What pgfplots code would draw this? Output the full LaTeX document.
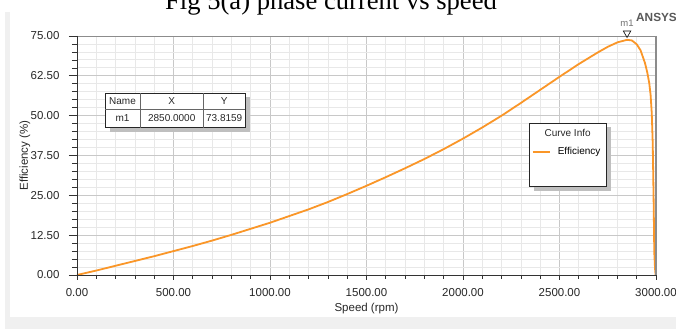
\documentclass[border=0pt]{standalone}
\usepackage{fontspec}
\setmainfont{Liberation Sans}
\newfontfamily\seriffont{Liberation Serif}
\usepackage{pgfplots}
\pgfplotsset{compat=1.18}
\definecolor{effor}{RGB}{250,150,40}
\definecolor{majgrid}{RGB}{200,200,200}
\definecolor{mingrid}{RGB}{232,232,232}
\definecolor{panelgray}{RGB}{240,240,240}
\definecolor{txt}{RGB}{40,40,40}
\begin{document}
\begin{tikzpicture}[x=1pt,y=1pt]
\fill[panelgray] (5,0) rectangle (676,317);
\fill[white] (10,12) rectangle (676,317);
\node[font=\seriffont\fontsize{26.6}{30}\selectfont, anchor=base west, inner sep=0pt] at (165,319) {Fig 5(a) phase current vs speed};
\begin{axis}[
  at={(77pt,54pt)}, anchor=south west, scale only axis, width=579pt, height=239pt,
  xmin=0, xmax=3000, ymin=0, ymax=75,
  xtick={0,500,...,3000}, ytick={0,12.5,...,75},
  minor x tick num=4, minor y tick num=4,
  grid=both,
  major grid style={majgrid, line width=0.8pt},
  minor grid style={mingrid, line width=0.8pt},
  tick align=outside, tick pos=left,
  major tick length=6pt, minor tick length=4pt,
  xtick style={/pgfplots/major tick length=4.5pt, /pgfplots/minor tick length=3.5pt},
  ytick style={/pgfplots/major tick length=8pt, /pgfplots/minor tick length=5pt},
  tick style={black!80, line width=0.7pt},
  axis line style={draw=none},
  clip=false,
  scaled ticks=false,
  /pgf/number format/fixed,
  /pgf/number format/fixed zerofill,
  /pgf/number format/precision=2,
  /pgf/number format/1000 sep={},
  /pgf/number format/assume math mode=true,
  tick label style={font=\fontsize{11.5}{13}\selectfont, text=txt},
  xticklabel style={yshift=-3.5pt},
  yticklabel style={xshift=-8pt},
  label style={font=\fontsize{11.5}{13}\selectfont, text=txt},
  xlabel={Speed (rpm)}, ylabel={Efficiency (\%)},
  xlabel style={at={(axis description cs:0.5,-0.152)}, anchor=base},
  ylabel style={at={(axis description cs:-0.09,0.5)}, anchor=center},
  legend style={at={(axis cs:2356,38.7)}, anchor=west, draw=none, fill=none, inner sep=0pt,
    font=\fontsize{10}{12}\selectfont,
    /tikz/every odd column/.append style={column sep=5pt}},
  legend cell align=left,
]
\addplot[effor, line width=1.8pt, line join=round] table {
x y
0 0
100 1.4
200 2.9
300 4.4
400 5.9
500 7.5
600 9.1
700 10.8
800 12.6
900 14.5
1000 16.4
1100 18.5
1200 20.6
1300 22.9
1400 25.4
1500 28.0
1600 30.7
1700 33.5
1800 36.4
1900 39.5
2000 42.8
2100 46.3
2200 50.0
2300 54.0
2400 58.1
2500 62.2
2600 66.2
2700 69.9
2750 71.6
2800 73.0
2850 73.8
2875 73.6
2900 72.4
2920 70.5
2943 66.5
2955 63.5
2965 60.2
2972 56.5
2978 50.8
2983 41.4
2986 30.0
2988 22.0
2991 7.2
2995 2.0
2998 0
};
\addplot[forget plot, only marks, mark=triangle*, mark size=4.3pt,
  mark options={yshift=6.6pt, rotate=180, fill=white, draw=black, line width=0.6pt},
  nodes near coords={m1},
  every node near coord/.append style={anchor=base, yshift=6.5pt, inner sep=0pt,
    font=\fontsize{9.5}{11}\selectfont, text=black!55}]
  coordinates {(2850,73.8159)};
% frame
\draw[black!45, line width=0.8pt] (rel axis cs:0,1) -- (rel axis cs:1,1);
\draw[black!45, line width=1.5pt] (rel axis cs:1,1) -- (rel axis cs:1,0);
\draw[black!80, line width=0.8pt] (rel axis cs:0,1) -- (rel axis cs:0,0) -- (rel axis cs:1,0);
% marker table
\fill[black!25] (axis cs:171,55.8) rectangle (axis cs:896.4,44.97);
\draw[black!85, fill=white, line width=0.8pt] (axis cs:145.1,57.02) rectangle (axis cs:870.5,46.22);
\draw[black!60, line width=0.6pt] (axis cs:145.1,52.09) -- (axis cs:870.5,52.09);
\draw[black!60, line width=0.6pt] (axis cs:326.4,57.02) -- (axis cs:326.4,46.22);
\draw[black!60, line width=0.6pt] (axis cs:654.4,57.02) -- (axis cs:654.4,46.22);
\node[font=\fontsize{10}{12}\selectfont, text=txt] at (axis cs:235.7,54.54) {Name};
\node[font=\fontsize{10}{12}\selectfont, text=txt] at (axis cs:490.7,54.54) {X};
\node[font=\fontsize{10}{12}\selectfont, text=txt] at (axis cs:762.7,54.54) {Y};
\node[font=\fontsize{10}{12}\selectfont, text=txt] at (axis cs:235.7,49.14) {m1};
\node[font=\fontsize{10}{12}\selectfont, text=txt] at (axis cs:490.7,49.14) {2850.0000};
\node[font=\fontsize{10}{12}\selectfont, text=txt] at (axis cs:762.7,49.14) {73.8159};
% curve info box
\fill[black!25] (axis cs:2368,46.3) rectangle (axis cs:2767,26.4);
\draw[black!85, fill=white, line width=0.8pt] (axis cs:2343.5,47.6) rectangle (axis cs:2740.9,27.9);
\node[font=\fontsize{10}{12}\selectfont, text=txt] at (axis cs:2542,44.47) {Curve Info};
\addlegendimage{draw=effor, line width=1.4pt, xscale=0.95}
\addlegendentry{Efficiency}
\end{axis}
\node[font=\bfseries\fontsize{11.8}{13}\selectfont, text=black!65, anchor=base west, inner sep=0pt] at (636,307.5) {ANSYS};
\pgfresetboundingbox
\path[use as bounding box] (0,0) rectangle (676,329);
\end{tikzpicture}
\end{document}
